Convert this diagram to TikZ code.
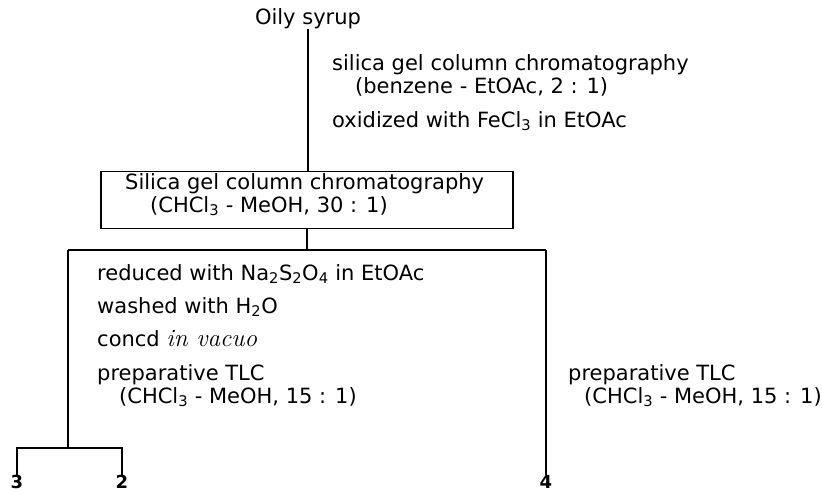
\documentclass[tikz,border=0pt]{standalone}
\usepackage{fontspec}
\setsansfont{DejaVu Sans}
\tikzset{
  step text/.style={font=\sffamily\fontsize{21}{24}\selectfont, inner sep=0pt, anchor=mid west},
  flow line/.style={line width=1.4pt},
  product/.style={font=\sffamily\bfseries\fontsize{18}{18}\selectfont, inner sep=0pt, anchor=north}
}
\begin{document}
\begin{tikzpicture}[x=1pt,y=-1pt]
  \useasboundingbox (0,0) rectangle (822,493);
  \node[step text, anchor=mid] (syrup) at (308,22) {Oily syrup};
  \node[step text] (silica1) at (332,68) {silica gel column chromatography};
  \node[step text] (eluent1) at (355,91) {(benzene - EtOAc, 2 : 1)};
  \node[step text] (oxid) at (332,125) {oxidized with FeCl\textsubscript{3} in EtOAc};
  \node[draw, flow line, minimum width=412, minimum height=57, inner sep=0pt] (box) at (307,200) {};
  \node[step text] (silica2) at (125,187) {Silica gel column chromatography};
  \node[step text] (eluent2) at (150,210) {(CHCl\textsubscript{3} - MeOH, 30 : 1)};
  \coordinate (fork) at (307,250);
  \coordinate (lfork) at (68,250);
  \coordinate (rfork) at (546,250);
  \coordinate (lfoot) at (68,448);
  \node[step text] (reduce) at (97,278) {reduced with Na\textsubscript{2}S\textsubscript{2}O\textsubscript{4} in EtOAc};
  \node[step text] (wash) at (97,311) {washed with H\textsubscript{2}O};
  \node[step text] (concd) at (97,344) {concd {\rmfamily\itshape\fontsize{25}{24}\selectfont in vacuo}};
  \node[step text] (tlcl) at (97,378) {preparative TLC};
  \node[step text] (tlcleluent) at (119,401) {(CHCl\textsubscript{3} - MeOH, 15 : 1)};
  \node[step text] (tlcr) at (568,378) {preparative TLC};
  \node[step text] (tlcreluent) at (584,401) {(CHCl\textsubscript{3} - MeOH, 15 : 1)};
  \node[product] (p3) at (17,475) {3};
  \node[product] (p2) at (122,475) {2};
  \node[product] (p4) at (546,475) {4};
  \draw[flow line] (syrup.south) -- (syrup.south |- box.north);
  \draw[flow line] (box.south -| fork) -- (fork);
  \draw[flow line] (lfork) -- (rfork);
  \draw[flow line] (lfork) -- (lfoot);
  \draw[flow line] (rfork) -- (p4.north);
  \draw[flow line] (p3.north) |- (lfoot) -| (p2.north);
\end{tikzpicture}
\end{document}
